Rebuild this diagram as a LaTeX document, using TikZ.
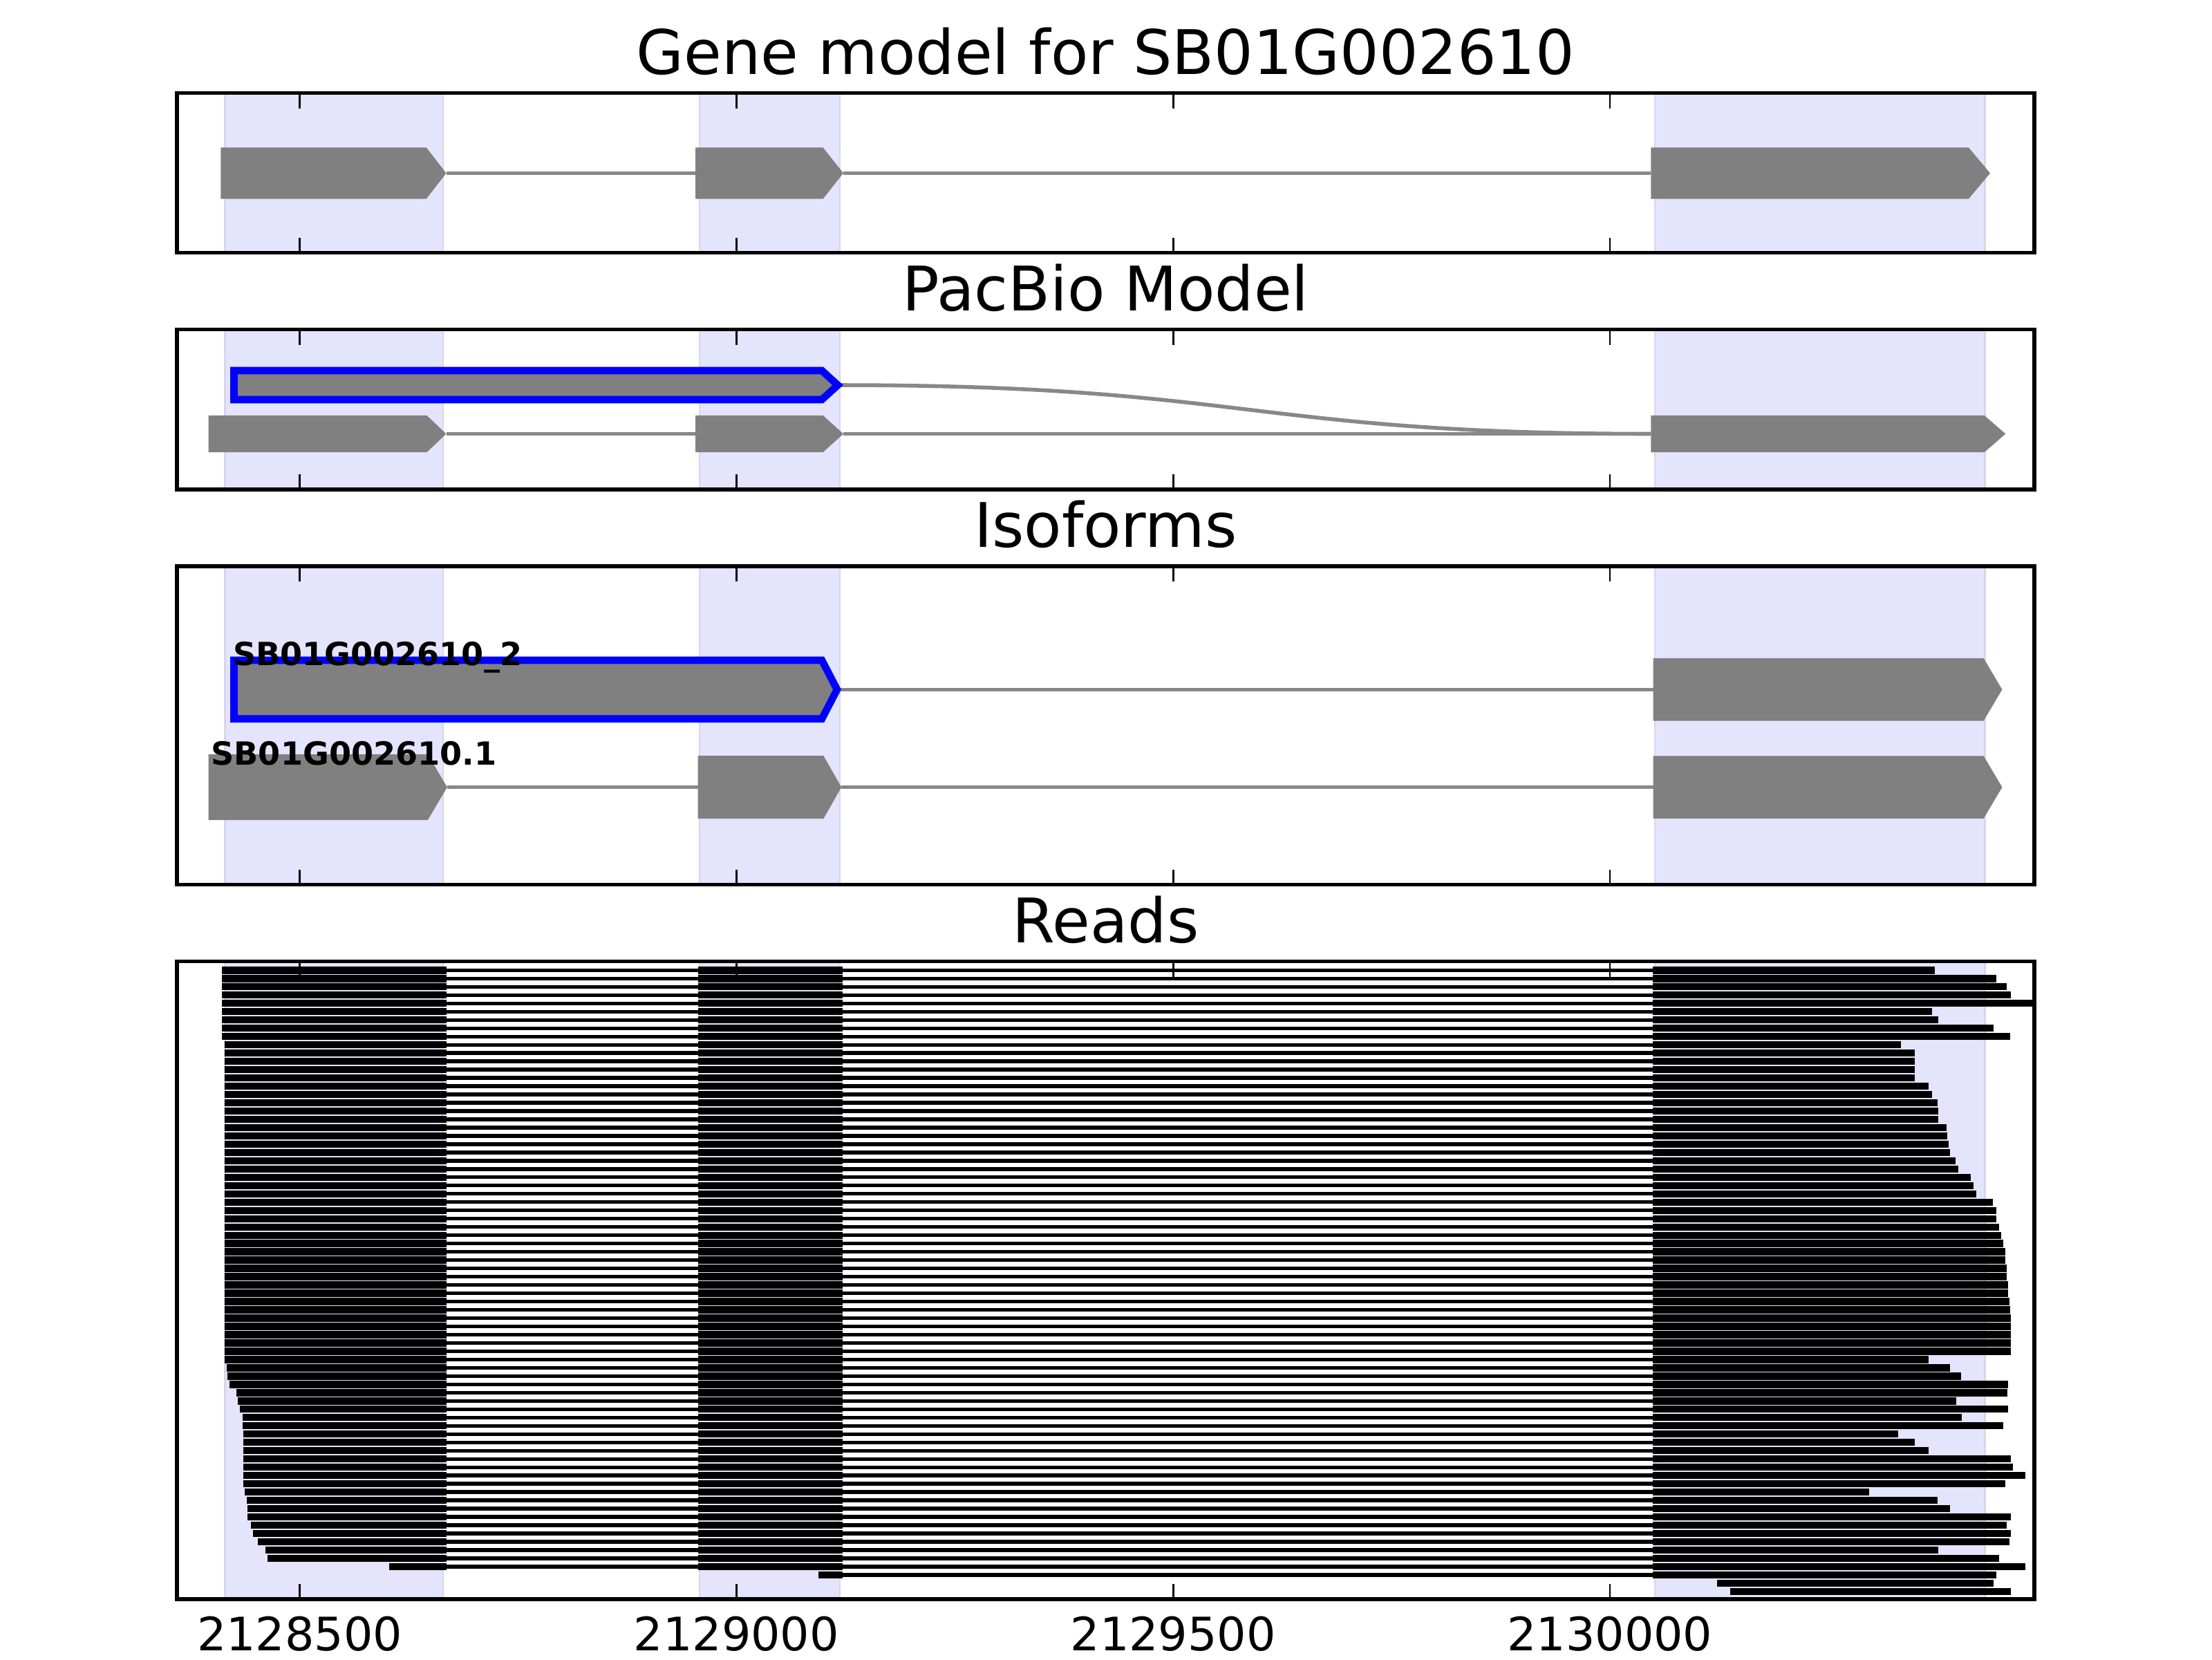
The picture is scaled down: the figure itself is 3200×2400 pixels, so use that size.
\documentclass[tikz,border=0pt]{standalone}
\usepackage{fontspec}
\setmainfont{DejaVu Sans}
\definecolor{shade}{RGB}{228,228,252}
\definecolor{shadeedge}{RGB}{214,214,236}
\definecolor{introncol}{RGB}{136,136,136}
\definecolor{exoncol}{RGB}{128,128,128}
\tikzset{
  exonfill/.style={fill=exoncol},
  introline/.style={draw=introncol, line width=1pt},
  spanbox/.style={fill=shade, draw=shadeedge, line width=0.4pt},
  framebox/.style={draw=black, line width=1pt},
  tickmark/.style={draw=black, line width=0.5pt},
  hilite/.style={fill=exoncol, draw=blue, line width=1.9pt, line join=miter},
  readbar/.style={fill=black},
  readline/.style={draw=black, line width=0.95pt},
  titletext/.style={inner sep=0pt, anchor=base, font=\fontsize{16}{19}\selectfont},
  ticktext/.style={inner sep=0pt, anchor=base, font=\fontsize{12}{14}\selectfont},
  isolabel/.style={inner sep=0pt, anchor=base west, font=\fontsize{8.3}{10}\selectfont\bfseries}
}
\newcommand\exonpoly[5]{\fill[exonfill] (#1,{#4-#5}) -- (#2,{#4-#5}) -- (#3,#4) -- (#2,{#4+#5}) -- (#1,{#4+#5}) -- cycle;}
\newcommand\panelshade[2]{%
  \filldraw[spanbox] (325.6,#1) rectangle (641.3,#2);
  \filldraw[spanbox] (1011.7,#1) rectangle (1215,#2);
  \filldraw[spanbox] (2393.75,#1) rectangle (2871.4,#2);}
\newcommand\panelframe[2]{%
  \foreach \tx in {433.6,1065.4,1697.2,2329}{
    \draw[tickmark] (\tx,#1) -- (\tx,{#1+22});
    \draw[tickmark] (\tx,#2) -- (\tx,{#2-22});}
  \draw[framebox] (256,#1) rectangle (2943,#2);}
\begin{document}
\begin{tikzpicture}[x=0.18pt,y=-0.18pt]
\useasboundingbox (0,0) rectangle (3200,2400);
\fill[white] (0,0) rectangle (3200,2400);

% ---------- Panel 1: Gene model ----------
\panelshade{134.7}{365.7}
\draw[introline] (645.5,250.5) -- (1006,250.5);
\draw[introline] (1220,250.5) -- (2388.4,250.5);
\exonpoly{319.3}{616.7}{645.5}{250.5}{37.2}
\exonpoly{1006}{1190.5}{1220}{250.5}{37.2}
\exonpoly{2388.4}{2847.8}{2879}{250.5}{37.2}
\panelframe{134.7}{365.7}
\node[titletext] (t1) at (1599.5,107.3) {Gene model for SB01G002610};

% ---------- Panel 2: PacBio Model ----------
\panelshade{476.7}{708}
\draw[introline] (1213,557) .. controls (1805,557) and (1805,627.5) .. (2388.4,627.5);
\draw[introline] (645.5,627.5) -- (1006,627.5);
\draw[introline] (1220,627.5) -- (2388.4,627.5);
\filldraw[hilite] (338.5,536) -- (1189,536) -- (1212,557) -- (1189,578) -- (338.5,578) -- cycle;
\exonpoly{301.7}{617.4}{645.5}{627.5}{26.7}
\exonpoly{1006}{1190.5}{1220}{627.5}{26.7}
\exonpoly{2388.4}{2870.5}{2901.3}{627.5}{26.7}
\panelframe{476.7}{708}
\node[titletext] (t2) at (1599.5,449.3) {PacBio Model};

% ---------- Panel 3: Isoforms ----------
\panelshade{819}{1279.5}
\draw[introline] (1211,997.3) -- (2391.5,997.3);
\filldraw[hilite] (338.5,955) -- (1189,955) -- (1211,997.3) -- (1189,1039.7) -- (338.5,1039.7) -- cycle;
\exonpoly{2391.5}{2869.6}{2896.4}{997.3}{45.2}
\draw[introline] (646.9,1138.6) -- (1009.6,1138.6);
\draw[introline] (1217.2,1138.6) -- (2391.5,1138.6);
\exonpoly{301.7}{618.8}{646.9}{1138.6}{47.5}
\exonpoly{1009.6}{1191.3}{1217.2}{1138.6}{45.5}
\exonpoly{2391.5}{2869.6}{2896.4}{1138.6}{45.2}
\node[isolabel] (l2) at (336,962.7) {SB01G002610\_2};
\node[isolabel] (l1) at (304.5,1106) {SB01G002610.1};
\panelframe{819}{1279.5}
\node[titletext] (t3) at (1599.5,791.6) {Isoforms};

% ---------- Panel 4: Reads ----------
\panelshade{1390.5}{2313}
\begin{scope}
\clip (256,1390.5) rectangle (2943,2313);
\foreach \k/\s/\e in {
 1/320.7/2798.7, 2/320.7/2888.4, 3/320.7/2902.7, 4/320.7/2909.4, 5/320.7/2990,
 6/321.3/2794.6, 7/321.3/2803.6, 8/321.3/2884.4, 9/321.3/2907.6, 10/324.5/2749.6,
 11/324.5/2769.6, 12/324.5/2769.6, 13/324.5/2769.6, 14/324.5/2769.6, 15/324.5/2789.7,
 16/324.5/2794.6, 17/324.5/2802.7, 18/324.5/2803.6, 19/324.5/2803.6, 20/324.5/2815.6,
 21/324.5/2816.5, 22/324.5/2818.8, 23/324.5/2821.4, 24/324.5/2828.6, 25/324.5/2832.6,
 26/324.5/2851.3, 27/324.5/2855.4, 28/324.5/2858.5, 29/324.5/2882.6, 30/324.5/2888.4,
 31/324.5/2888.4, 32/324.5/2892.4, 33/324.5/2894.6, 34/324.5/2897.8, 35/324.5/2901.3,
 36/324.5/2901.3, 37/324.5/2902.7, 38/324.5/2902.7, 39/324.5/2904.5, 40/324.5/2904.5,
 41/324.5/2906.7, 42/324.5/2907.6, 43/324.5/2908.5, 44/324.5/2909.4, 45/324.5/2909.4,
 46/324.5/2909.4, 47/324.5/2909.4, 48/324.5/2789.7, 49/328.4/2821.4, 50/329.1/2836.6,
 51/331.9/2904.5, 52/342.4/2903.6, 53/343.8/2830.4, 54/347.3/2904.5, 55/350.8/2837.5,
 56/350.8/2897.8, 57/352.2/2746.4, 58/352.2/2769.6, 59/352.2/2789.7, 60/352.2/2908.5,
 61/352.2/2911.6, 62/352.2/2930.4, 63/352.2/2901.3, 64/354.3/2703.6, 65/356.5/2802.7,
 66/357.9/2821.4, 67/357.9/2908.5, 68/362.8/2902.7, 69/365.6/2909.4, 70/372.6/2906.7,
 71/383.8/2803.6, 72/387.3/2892.4, 73/562.7/2930.4}{
  \pgfmathsetmacro\yy{1403.3+11.98*(\k-1)}
  \draw[readline] (645.5,\yy) -- (1009.6,\yy);
  \draw[readline] (1218.6,\yy) -- (2391,\yy);
  \fill[readbar] (\s,{\yy-5.2}) rectangle (645.5,{\yy+5.2});
  \fill[readbar] (1009.6,{\yy-5.2}) rectangle (1218.6,{\yy+5.2});
  \fill[readbar] (2391,{\yy-5.2}) rectangle (\e,{\yy+5.2});
}
% row 74: starts in exon 2
\pgfmathsetmacro\yy{1403.3+11.98*73}
\draw[readline] (1218.6,\yy) -- (2391,\yy);
\fill[readbar] (1183.5,{\yy-5.2}) rectangle (1218.6,{\yy+5.2});
\fill[readbar] (2391,{\yy-5.2}) rectangle (2888.4,{\yy+5.2});
% rows 75, 76: exon 3 only
\pgfmathsetmacro\yy{1403.3+11.98*74}
\fill[readbar] (2484.4,{\yy-5.2}) rectangle (2884.4,{\yy+5.2});
\pgfmathsetmacro\yy{1403.3+11.98*75}
\fill[readbar] (2503.1,{\yy-5.2}) rectangle (2909.4,{\yy+5.2});
\end{scope}
\panelframe{1390.5}{2313}
\node[titletext] (t4) at (1599.5,1363.1) {Reads};

% ---------- x tick labels ----------
\node[ticktext] (x1) at (433.6,2387) {2128500};
\node[ticktext] (x2) at (1065.4,2387) {2129000};
\node[ticktext] (x3) at (1697.2,2387) {2129500};
\node[ticktext] (x4) at (2329,2387) {2130000};
\end{tikzpicture}
\end{document}
